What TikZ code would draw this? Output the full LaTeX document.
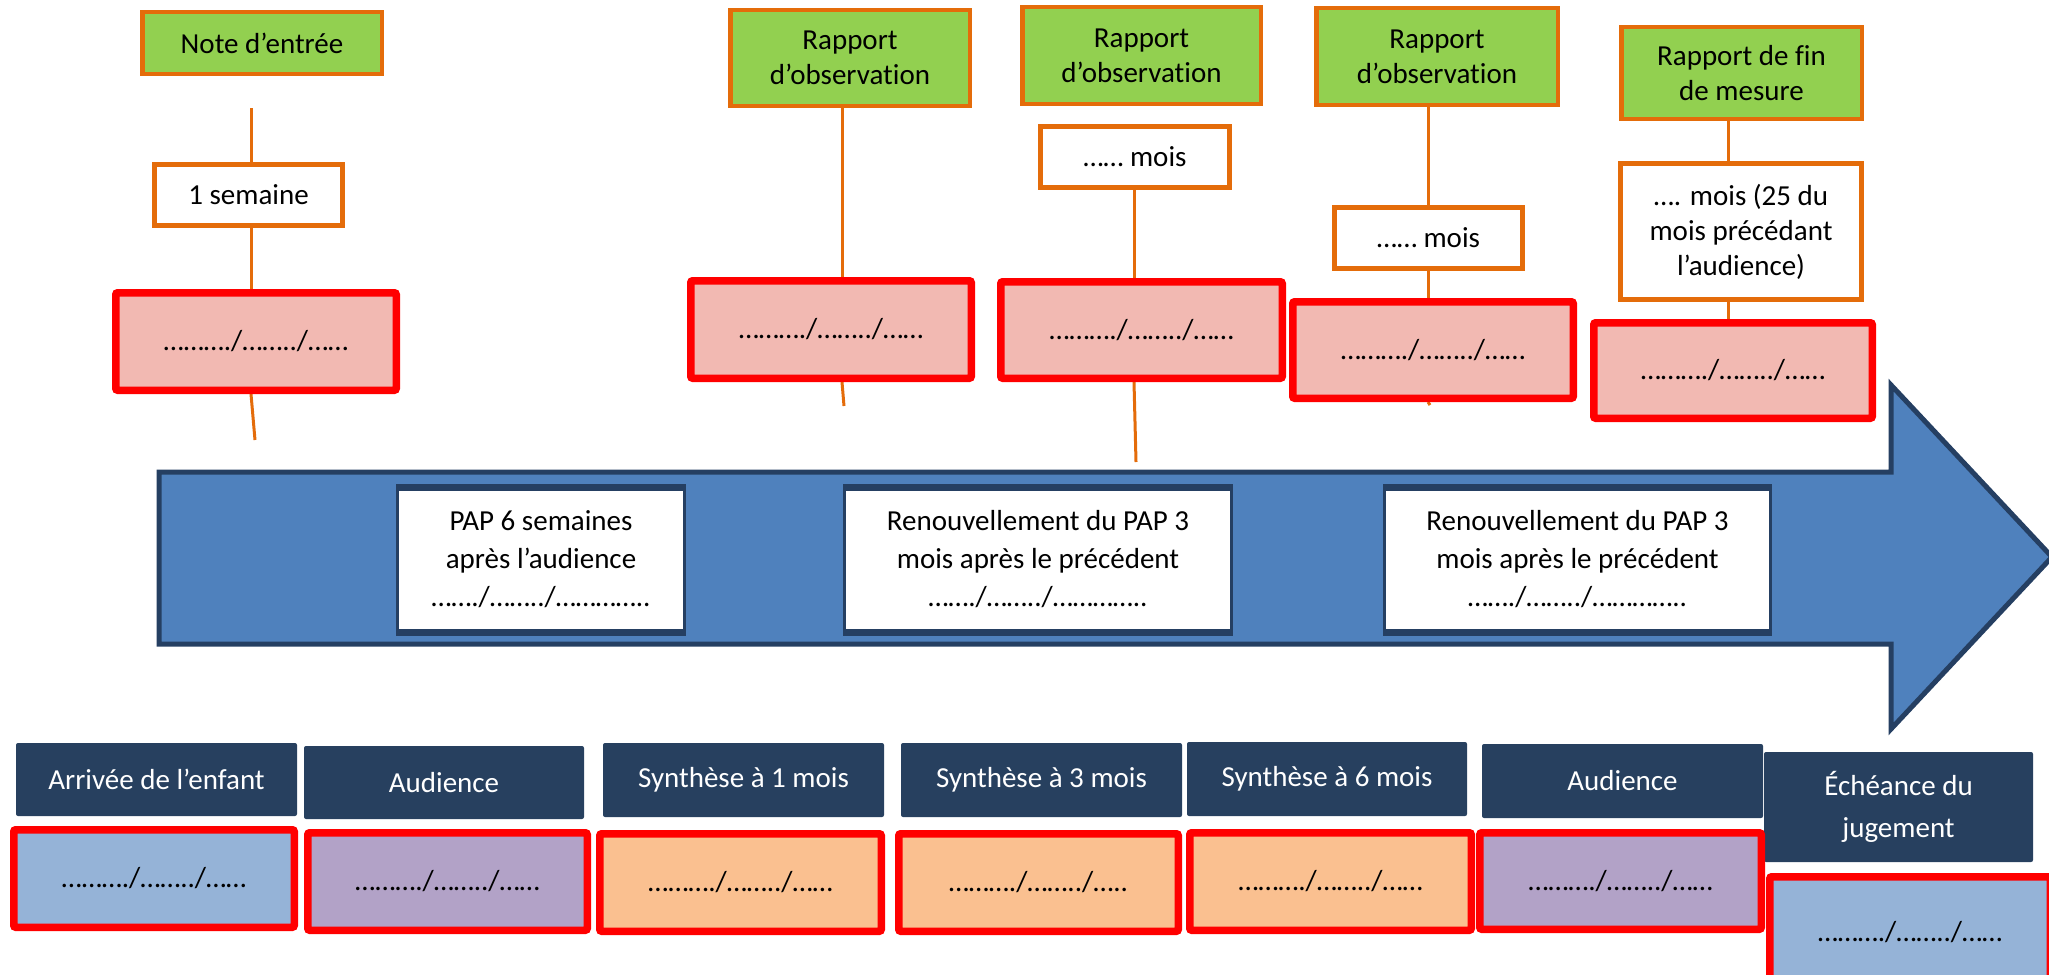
\documentclass[tikz,border=0pt]{standalone}
\usepackage{fontspec}
\setmainfont{Carlito}[Ligatures=NoCommon]
\usetikzlibrary{backgrounds,calc}
\definecolor{gfill}{HTML}{92D050}
\definecolor{obord}{HTML}{E46C0A}
\definecolor{rbord}{HTML}{FF0000}
\definecolor{pinkf}{HTML}{F2B9B2}
\definecolor{navy}{HTML}{27405F}
\definecolor{arrowf}{HTML}{4F81BD}
\definecolor{arrowd}{HTML}{253F62}
\definecolor{lblue}{HTML}{95B3D7}
\definecolor{lpurp}{HTML}{B2A2C7}
\definecolor{lorange}{HTML}{FAC090}
\newcommand{\dtA}{………./……../……}
\newcommand{\dtB}{………./……../…..}
\newcommand{\dtP}{……./……../…………..}
\begin{document}
\begin{tikzpicture}[x=1pt,y=-1pt,
 every node/.style={font=\fontsize{29}{35}\selectfont, align=center, inner sep=0pt},
 sz/.style 2 args={minimum width=#1pt, minimum height=#2pt},
 greenbox/.style={fill=gfill, draw=obord, line width=4.5pt},
 whitebox/.style={fill=white, draw=obord, line width=5pt},
 datebox/.style={draw=rbord, line width=7.5pt, rounded corners=2pt},
 navybox/.style={fill=navy, text=white, rounded corners=2pt},
 papbox/.style={fill=white, draw=arrowd, line width=3pt, font=\fontsize{29}{38}\selectfont},
 conn/.style={draw=obord, line width=3pt},
 band/.style={draw=arrowd, line width=7pt}
]
\useasboundingbox (0,0) rectangle (2049,974);
\clip (0,0) rectangle (2049,974);

% big arrow
\draw[fill=arrowf, draw=arrowd, line width=5pt, line join=miter]
  (159,472) -- (1891,472) -- (1891,385) -- (2052,557) -- (1891,729) -- (1891,644) -- (159,644) -- cycle;

% top green boxes
\node[greenbox, sz={239.5}{61.5}] (g1) at (262,43) {Note d’entrée};
\node[greenbox, sz={239.5}{95.5}] (g2) at (850,58) {Rapport\\d’observation};
\node[greenbox, sz={238.5}{96.5}] (g3) at (1141.5,55.5) {Rapport\\d’observation};
\node[greenbox, sz={241.5}{96.5}] (g4) at (1437,56.5) {Rapport\\d’observation};
\node[greenbox, sz={240.5}{91.5}] (g5) at (1741.5,73) {Rapport de fin\\de mesure};

% white delay boxes
\node[whitebox, sz={188}{61}] (w1) at (248.5,195) {1 semaine};
\node[whitebox, sz={189}{61}] (w3) at (1135,157) {…… mois};
\node[whitebox, sz={188}{61}] (w4) at (1428.5,238) {…… mois};
\node[whitebox, sz={241}{136}] (w5) at (1741,231.5) {…. mois (25 du\\mois précédant\\l’audience)};

% pink date boxes
\node[datebox, fill=pinkf, sz={280.5}{97.5}] (r1) at (256,341.5) {\dtA};
\node[datebox, fill=pinkf, sz={280.5}{97.5}] (r2) at (831,329.5) {\dtA};
\node[datebox, fill=pinkf, sz={281.5}{96.5}] (r3) at (1141.5,330) {\dtA};
\node[datebox, fill=pinkf, sz={280.5}{96.5}] (r4) at (1433,350) {\dtA};
\node[datebox, fill=pinkf, sz={278.5}{95.5}] (r5) at (1733,370.5) {\dtA};

% connector coordinates
\coordinate (c1t) at (251,108);
\coordinate (c1b) at (255,440);
\coordinate (c2x) at (842,0);
\coordinate (c2b) at (844,406);
\coordinate (c3x) at (1134,0);
\coordinate (c3b) at (1136,462);
\coordinate (c4x) at (1428,0);
\coordinate (c4b) at (1430,405);
\coordinate (c5x) at (1728,0);

\begin{pgfonlayer}{background}
\draw[conn] (c1t) -- (c1t |- w1.north);
\draw[conn] (c1t |- w1.south) -- (c1t |- r1.north);
\draw[conn] (c1t |- r1.south) -- (c1b);
\draw[conn] (c2x |- g2.south) -- (c2x |- r2.north);
\draw[conn] (c2x |- r2.south) -- (c2b);
\draw[conn] (c3x |- w3.south) -- (c3x |- r3.north);
\draw[conn] (c3x |- r3.south) -- (c3b);
\draw[conn] (c4x |- g4.south) -- (c4x |- w4.north);
\draw[conn] (c4x |- w4.south) -- (c4x |- r4.north);
\draw[conn] (c4x |- r4.south) -- (c4b);
\draw[conn] (c5x |- g5.south) -- (c5x |- w5.north);
\draw[conn] (c5x |- w5.south) -- (c5x |- r5.north);
\end{pgfonlayer}

% PAP boxes in arrow
\node[papbox, sz={287}{142}] (p1) at (541,559.5) {PAP 6 semaines\\après l’audience\\\dtP};
\node[papbox, sz={387}{142}] (p2) at (1038,559.5) {Renouvellement du PAP 3\\mois après le précédent\\\dtP};
\node[papbox, sz={386}{142}] (p3) at (1577.5,559.5) {Renouvellement du PAP 3\\mois après le précédent\\\dtP};
\foreach \p in {p1,p2,p3}{
  \draw[band] (\p.north west) -- (\p.north east);
  \draw[band] (\p.south west) -- (\p.south east);
}

% bottom navy labels
\node[navybox, sz={281}{73}] (d1) at (156.5,779.5) {Arrivée de l’enfant};
\node[navybox, sz={280}{73}] (d2) at (444,782.5) {Audience};
\node[navybox, sz={281}{74}] (d3) at (743.5,780) {Synthèse à 1 mois};
\node[navybox, sz={281}{74}] (d4) at (1041.5,780) {Synthèse à 3 mois};
\node[navybox, sz={280}{74}] (d5) at (1327,779) {Synthèse à 6 mois};
\node[navybox, sz={281}{74}] (d6) at (1622.5,781) {Audience};
\node[navybox, sz={269}{110}, font=\fontsize{29}{42}\selectfont] (d7) at (1898.5,807) {Échéance du\\jugement};

% bottom date boxes
\node[datebox, fill=lblue, sz={280.5}{97.5}] (b1) at (154,878.5) {\dtA};
\node[datebox, fill=lpurp, sz={279.5}{97.5}] (b2) at (447.5,881.5) {\dtA};
\node[datebox, fill=lorange, sz={281.5}{97.5}] (b3) at (740.5,882.5) {\dtA};
\node[datebox, fill=lorange, sz={279.5}{97.5}] (b4) at (1038.5,882.5) {\dtB};
\node[datebox, fill=lorange, sz={281.5}{97.5}] (b5) at (1330.5,881.5) {\dtA};
\node[datebox, fill=lpurp, sz={281.5}{96.5}] (b6) at (1620.5,881) {\dtA};
\node[datebox, fill=lblue, sz={280.5}{110.5}] (b7) at (1910,932) {\dtA};
\end{tikzpicture}
\end{document}
